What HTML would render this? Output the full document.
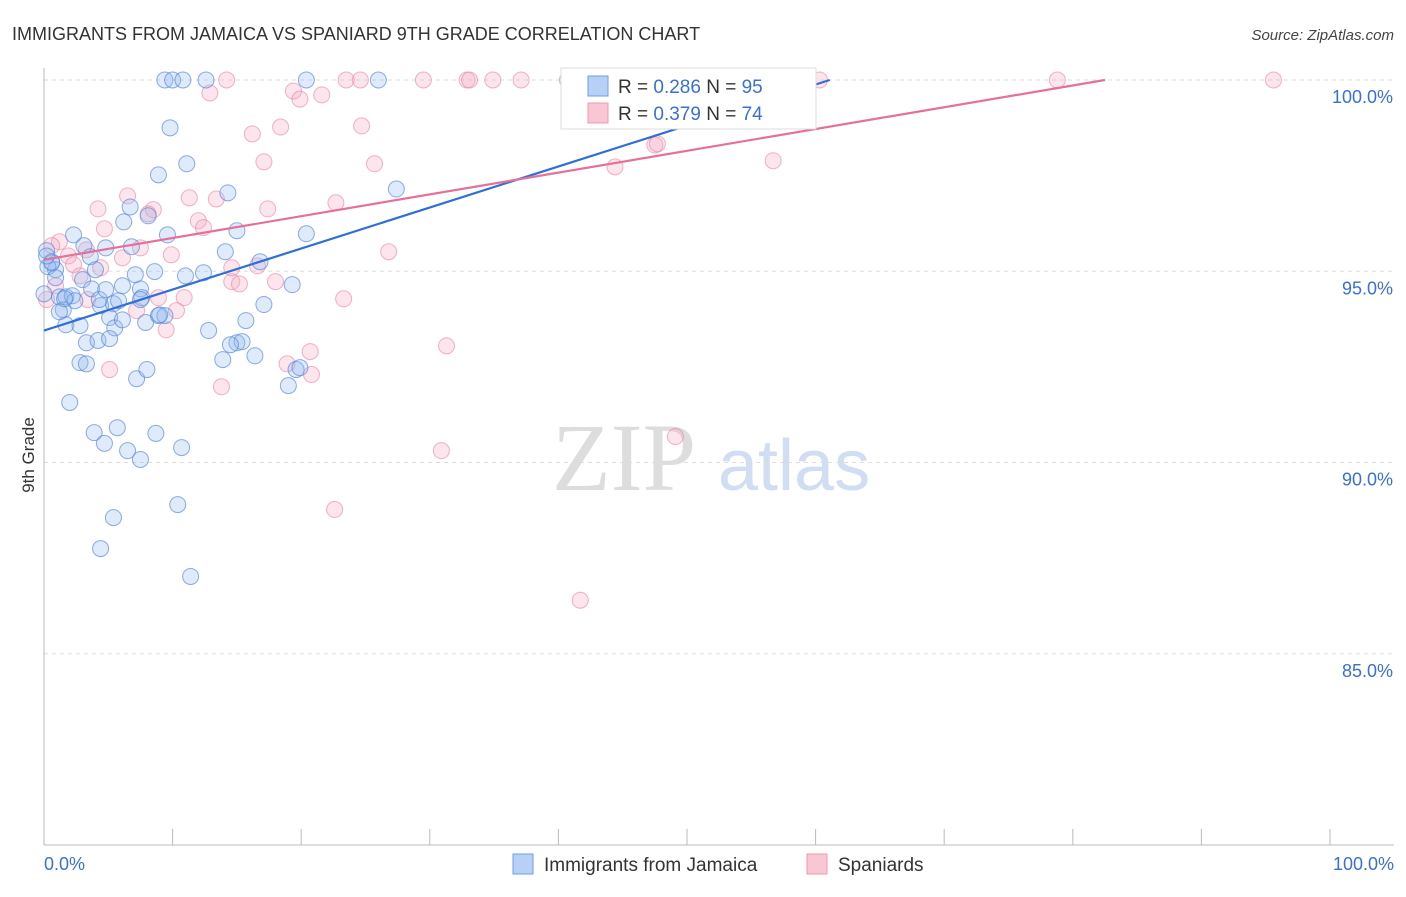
<!DOCTYPE html>
<html><head><meta charset="utf-8"><style>
body{margin:0;background:#fff;font-family:"Liberation Sans",sans-serif;}
</style></head><body>
<svg id="chart" width="1406" height="892" xmlns="http://www.w3.org/2000/svg" style="font-family:'Liberation Sans',sans-serif">
<text x="12" y="40" font-size="18" fill="#333">IMMIGRANTS FROM JAMAICA VS SPANIARD 9TH GRADE CORRELATION CHART</text>
<text x="1394" y="40" font-size="15" fill="#444" text-anchor="end" font-style="italic">Source: ZipAtlas.com</text>
<g><text x="552" y="490" font-size="96" fill="#ddd" font-family="Liberation Serif">ZIP</text><text x="718" y="490" font-size="72" fill="#d0ddf2">atlas</text></g>
<g id="grid"></g><g id="axes"></g><g id="pts"></g><g id="lines"></g>
<text transform="translate(34,455) rotate(-90)" font-size="17" fill="#333" text-anchor="middle">9th Grade</text>
<g>
<rect x="561" y="68" width="255" height="61" fill="#fff" stroke="#ddd"/>
<rect x="588" y="76" width="20" height="20" fill="#b7d0f5" stroke="#6f9ee6"/>
<text x="618" y="93" font-size="19" fill="#333">R = <tspan fill="#3a6fd8">0.286</tspan>   N = <tspan fill="#3a6fd8">95</tspan></text>
<rect x="588" y="103" width="20" height="20" fill="#f9c6d4" stroke="#ec9ab2"/>
<text x="618" y="120" font-size="19" fill="#333">R = <tspan fill="#3a6fd8">0.379</tspan>   N = <tspan fill="#3a6fd8">74</tspan></text>
</g>
<g>
<rect x="513" y="854" width="20" height="20" fill="#b7d0f5" stroke="#6f9ee6"/>
<text x="544" y="871" font-size="19" fill="#333">Immigrants from Jamaica</text>
<rect x="807" y="854" width="20" height="20" fill="#f9c6d4" stroke="#ec9ab2"/>
<text x="838" y="871" font-size="19" fill="#333">Spaniards</text>
</g>
</svg>
<script>
const yTicks=[100,95,90,85];
const yTickLabels=["100.0%","95.0%","90.0%","85.0%"];
const blueX=[9.4,10.0,10.8,12.6,20.4,26.0,9.8,8.9,11.1,14.3,27.4,6.7,6.2,8.1,9.6,15.0,20.4,0.2,0.6,0.9,0.3,2.3,3.1,4.8,6.8,3.6,4.0,0.9,3.0,3.7,1.2,1.7,2.2,2.4,1.5,1.7,2.8,4.4,5.4,5.8,6.1,7.5,7.1,8.6,11.0,12.4,14.1,16.8,19.3,7.6,5.1,5.5,6.1,7.9,8.9,9.4,17.1,15.7,12.8,15.0,15.4,13.9,16.4,3.3,4.2,5.1,2.8,3.3,7.2,8.0,19.6,19.9,19.0,2.0,3.9,4.7,5.7,6.5,7.5,8.7,10.7,10.4,5.4,4.4,11.4,0,9.0,0.6,7.5,14.5,4.3,1.2,4.8,0.2,1.6];
const blueY=[100,100,100,100,100,100,98.75,97.52,97.81,97.05,97.15,96.68,96.29,96.45,95.95,96.06,95.98,95.54,95.25,95.04,95.12,95.95,95.67,95.61,95.64,95.38,95.04,94.83,94.78,94.54,94.33,94.33,94.36,94.23,93.99,93.60,93.58,94.10,94.15,94.23,94.62,94.54,94.91,94.99,94.88,94.96,95.51,95.25,94.65,94.31,93.79,93.52,93.73,93.66,93.84,93.84,94.13,93.71,93.45,93.13,93.16,92.69,92.79,93.13,93.19,93.24,92.61,92.58,92.19,92.43,92.43,92.48,92.01,91.57,90.78,90.50,90.91,90.31,90.08,90.76,90.39,88.90,88.56,87.75,87.02,94.41,93.86,95.22,94.26,93.08,94.26,93.94,94.52,95.40,94.28];
const pinkX=[12.9,14.2,23.5,24.6,29.5,32.9,33.1,34.9,37.1,40.7,49.5,52.1,58.9,60.3,78.8,95.6,19.4,19.9,21.6,16.2,18.4,24.7,25.7,17.1,47.5,44.4,56.7,6.5,4.2,8.5,11.3,13.4,12.0,12.4,17.4,22.7,4.7,1.2,7.5,1.9,3.3,2.3,6.1,9.9,16.6,18.0,14.6,15.2,26.8,0.2,0.9,3.4,8.9,10.9,10.3,7.2,9.5,23.3,20.7,18.9,20.8,5.1,13.8,31.3,30.9,49.1,22.6,41.7,4.4,2.8,0.6,8.1,47.7,14.6];
const pinkY=[99.66,100,100,100,100,100,100,100,100,100,100,100,100,100,100,100,99.71,99.50,99.61,98.59,98.77,98.80,97.81,97.86,98.30,97.73,97.89,96.97,96.63,96.61,96.92,96.89,96.32,96.14,96.63,96.79,96.11,95.77,95.61,95.40,95.56,95.17,95.35,95.43,95.14,94.73,94.73,94.67,95.51,94.26,94.62,94.26,94.31,94.31,93.97,93.97,93.47,94.28,92.90,92.58,92.30,92.43,91.98,93.05,90.31,90.68,88.77,86.40,95.09,94.88,95.67,96.50,98.33,95.09];
const blueLine=[[0,93.45],[61.1,100]];
const pinkLine=[[0,95.3],[82.5,100]];
const NS="http://www.w3.org/2000/svg";
const L=44,R=1330,T=80,B=845;
const sx=v=>L+(v/100)*(R-L);
const sy=v=>T+(100-v)/20*(B-T);
function mk(tag,attrs,parent){const e=document.createElementNS(NS,tag);for(const k in attrs)e.setAttribute(k,attrs[k]);parent.appendChild(e);return e;}
const grid=document.getElementById('grid'),axes=document.getElementById('axes');
yTicks.forEach((t,i)=>{
 const g=mk('line',{x1:L,x2:1394,y1:sy(t),y2:sy(t),stroke:'#ddd','stroke-dasharray':'4,4'},grid);
 
 
 const tx=mk('text',{x:1393,y:sy(t)+23,'font-size':18,fill:'#3a6fd8','text-anchor':'end'},axes);
 tx.textContent=yTickLabels[i];
 
 
});
const ax=mk('line',{x1:L,x2:1394,y1:B,y2:B,stroke:'#bbb'},axes);


const ay=mk('line',{x1:L,x2:L,y1:68,y2:B,stroke:'#bbb'},axes);


for(let i=0;i<=10;i++){
 const tk=mk('line',{x1:sx(i*10),x2:sx(i*10),y1:B,y2:B-16,stroke:'#bbb'},axes);
 
 
}
const x0=mk('text',{x:44,y:870,'font-size':18,fill:'#3a6fd8'},axes);x0.textContent='0.0%';


const x1=mk('text',{x:1394,y:870,'font-size':18,fill:'#3a6fd8','text-anchor':'end'},axes);x1.textContent='100.0%';


const pts=document.getElementById('pts');
pinkX.forEach((x,i)=>{const c=mk('circle',{cx:sx(x),cy:sy(pinkY[i]),r:8,fill:'rgba(246,170,195,0.3)',stroke:'rgba(232,130,160,0.6)'},pts);
 
 });
blueX.forEach((x,i)=>{const c=mk('circle',{cx:sx(x),cy:sy(blueY[i]),r:8,fill:'rgba(150,185,240,0.3)',stroke:'rgba(80,130,215,0.65)'},pts);
 
 });
const lines=document.getElementById('lines');
const bl=mk('line',{x1:sx(blueLine[0][0]),y1:sy(blueLine[0][1]),x2:sx(blueLine[1][0]),y2:sy(blueLine[1][1]),stroke:'#2f6fd6','stroke-width':2.2},lines);


const pl=mk('line',{x1:sx(pinkLine[0][0]),y1:sy(pinkLine[0][1]),x2:sx(pinkLine[1][0]),y2:sy(pinkLine[1][1]),stroke:'#e5709a','stroke-width':2.2},lines);


</script>
</body></html>
